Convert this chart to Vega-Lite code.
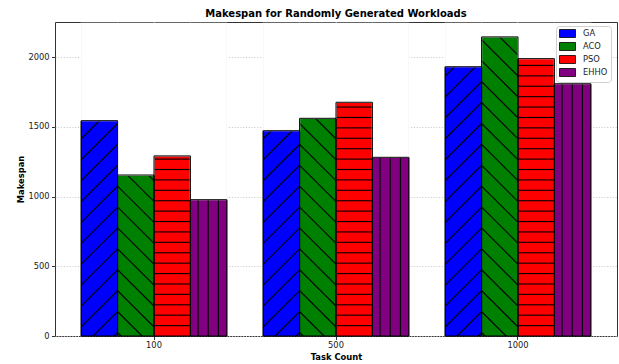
{
  "$schema": "https://vega.github.io/schema/vega-lite/v6.json",
  "width": 562,
  "height": 314,
  "autosize": {"type": "none"},
  "padding": {"left": 55, "top": 22, "right": 2, "bottom": 28},
  "background": "white",
  "title": {"text": "Makespan for Randomly Generated Workloads", "fontSize": 10, "fontWeight": "bold", "font": "DejaVu Sans", "anchor": "middle", "frame": "group", "offset": 3, "color": "#000000"},
  "config": {
    "font": "DejaVu Sans",
    "view": {"stroke": "#333333", "strokeWidth": 1},
    "axis": {"labelFont": "DejaVu Sans", "titleFont": "DejaVu Sans", "labelFontSize": 8.3, "titleFontSize": 8.4, "titleFontWeight": "bold", "labelColor": "#222222", "titleColor": "#000000", "tickColor": "#333333", "tickSize": 3.5, "domain": false, "grid": true, "gridColor": "#c8c8c8", "gridDash": [1.2, 1.6], "gridWidth": 0.9, "zindex": 1}
  },
  "data": {"values": [
    {"task": "100", "algo": "GA", "makespan": 1545},
    {"task": "100", "algo": "ACO", "makespan": 1155},
    {"task": "100", "algo": "PSO", "makespan": 1292},
    {"task": "100", "algo": "EHHO", "makespan": 978},
    {"task": "500", "algo": "GA", "makespan": 1473},
    {"task": "500", "algo": "ACO", "makespan": 1562},
    {"task": "500", "algo": "PSO", "makespan": 1677},
    {"task": "500", "algo": "EHHO", "makespan": 1282},
    {"task": "1000", "algo": "GA", "makespan": 1932},
    {"task": "1000", "algo": "ACO", "makespan": 2146},
    {"task": "1000", "algo": "PSO", "makespan": 1990},
    {"task": "1000", "algo": "EHHO", "makespan": 1810}
  ]},
  "encoding": {
    "x": {"field": "task", "type": "nominal", "title": "Task Count", "scale": {"domain": ["100", "500", "1000"], "paddingInner": 0.2, "paddingOuter": 0.144}, "axis": {"labelAngle": 0, "labelPadding": 0.5, "titlePadding": 4.5, "bandPosition": 0.5}},
    "xOffset": {"field": "algo", "type": "nominal", "scale": {"domain": ["GA", "ACO", "PSO", "EHHO"], "paddingInner": 0, "paddingOuter": 0}}
  },
  "layer": [
    {
      "mark": {"type": "bar", "stroke": "black", "strokeWidth": 1},
      "encoding": {
        "y": {"field": "makespan", "type": "quantitative", "title": "Makespan", "scale": {"domain": [0, 2253], "nice": false}, "axis": {"values": [0, 500, 1000, 1500, 2000], "format": "d", "labelPadding": 2.5, "titlePadding": 2}},
        "color": {"field": "algo", "type": "nominal", "scale": {"domain": ["GA", "ACO", "PSO", "EHHO"], "range": ["#0000ff", "#008000", "#ff0000", "#800080"]},
          "legend": {"title": null, "orient": "none", "legendX": 501, "legendY": 4, "direction": "vertical", "padding": 3, "strokeColor": "#d0d0d0", "cornerRadius": 3, "fillColor": "rgba(255,255,255,0.85)", "symbolType": "M-1,-1H3V1H-1Z", "symbolSize": 64, "symbolStrokeColor": "black", "symbolStrokeWidth": 0.8, "symbolOpacity": 1, "labelFontSize": 8.3, "labelFont": "DejaVu Sans", "labelColor": "#222222", "labelOffset": 15, "rowPadding": 0, "zindex": 2}}
      }
    },
    {
      "transform": [{"filter": "datum.algo === 'GA'"}],
      "mark": {"type": "bar", "stroke": null, "fill": {"gradient": "linear", "x1": 0, "y1": 0, "x2": 0.12787, "y2": 1.10127, "stops": [
        {"offset": 0.0255, "color": "#0000ff"}, {"offset": 0.03, "color": "#000000"}, {"offset": 0.0345, "color": "#0000ff"},
        {"offset": 0.0855, "color": "#0000ff"}, {"offset": 0.09, "color": "#000000"}, {"offset": 0.0945, "color": "#0000ff"},
        {"offset": 0.1455, "color": "#0000ff"}, {"offset": 0.15, "color": "#000000"}, {"offset": 0.1545, "color": "#0000ff"},
        {"offset": 0.2055, "color": "#0000ff"}, {"offset": 0.21, "color": "#000000"}, {"offset": 0.2145, "color": "#0000ff"},
        {"offset": 0.2655, "color": "#0000ff"}, {"offset": 0.27, "color": "#000000"}, {"offset": 0.2745, "color": "#0000ff"},
        {"offset": 0.3255, "color": "#0000ff"}, {"offset": 0.33, "color": "#000000"}, {"offset": 0.3345, "color": "#0000ff"},
        {"offset": 0.3855, "color": "#0000ff"}, {"offset": 0.39, "color": "#000000"}, {"offset": 0.3945, "color": "#0000ff"},
        {"offset": 0.4455, "color": "#0000ff"}, {"offset": 0.45, "color": "#000000"}, {"offset": 0.4545, "color": "#0000ff"},
        {"offset": 0.5055, "color": "#0000ff"}, {"offset": 0.51, "color": "#000000"}, {"offset": 0.5145, "color": "#0000ff"},
        {"offset": 0.5655, "color": "#0000ff"}, {"offset": 0.57, "color": "#000000"}, {"offset": 0.5745, "color": "#0000ff"},
        {"offset": 0.6255, "color": "#0000ff"}, {"offset": 0.63, "color": "#000000"}, {"offset": 0.6345, "color": "#0000ff"},
        {"offset": 0.6855, "color": "#0000ff"}, {"offset": 0.69, "color": "#000000"}, {"offset": 0.6945, "color": "#0000ff"},
        {"offset": 0.7455, "color": "#0000ff"}, {"offset": 0.75, "color": "#000000"}, {"offset": 0.7545, "color": "#0000ff"},
        {"offset": 0.8055, "color": "#0000ff"}, {"offset": 0.81, "color": "#000000"}, {"offset": 0.8145, "color": "#0000ff"},
        {"offset": 0.8655, "color": "#0000ff"}, {"offset": 0.87, "color": "#000000"}, {"offset": 0.8745, "color": "#0000ff"},
        {"offset": 0.9255, "color": "#0000ff"}, {"offset": 0.93, "color": "#000000"}, {"offset": 0.9345, "color": "#0000ff"},
        {"offset": 0.9855, "color": "#0000ff"}, {"offset": 0.99, "color": "#000000"}, {"offset": 0.9945, "color": "#0000ff"}
      ]}},
      "encoding": {
        "y": {"datum": 2240, "type": "quantitative", "title": "Makespan", "scale": {"domain": [0, 2253], "nice": false}},
        "y2": {"datum": 0}
      }
    },
    {
      "transform": [{"filter": "datum.algo === 'ACO'"}],
      "mark": {"type": "bar", "stroke": null, "fill": {"gradient": "linear", "x1": 1, "y1": 0, "x2": 0.87213, "y2": 1.10127, "stops": [
        {"offset": 0.0255, "color": "#008000"}, {"offset": 0.03, "color": "#000000"}, {"offset": 0.0345, "color": "#008000"},
        {"offset": 0.0855, "color": "#008000"}, {"offset": 0.09, "color": "#000000"}, {"offset": 0.0945, "color": "#008000"},
        {"offset": 0.1455, "color": "#008000"}, {"offset": 0.15, "color": "#000000"}, {"offset": 0.1545, "color": "#008000"},
        {"offset": 0.2055, "color": "#008000"}, {"offset": 0.21, "color": "#000000"}, {"offset": 0.2145, "color": "#008000"},
        {"offset": 0.2655, "color": "#008000"}, {"offset": 0.27, "color": "#000000"}, {"offset": 0.2745, "color": "#008000"},
        {"offset": 0.3255, "color": "#008000"}, {"offset": 0.33, "color": "#000000"}, {"offset": 0.3345, "color": "#008000"},
        {"offset": 0.3855, "color": "#008000"}, {"offset": 0.39, "color": "#000000"}, {"offset": 0.3945, "color": "#008000"},
        {"offset": 0.4455, "color": "#008000"}, {"offset": 0.45, "color": "#000000"}, {"offset": 0.4545, "color": "#008000"},
        {"offset": 0.5055, "color": "#008000"}, {"offset": 0.51, "color": "#000000"}, {"offset": 0.5145, "color": "#008000"},
        {"offset": 0.5655, "color": "#008000"}, {"offset": 0.57, "color": "#000000"}, {"offset": 0.5745, "color": "#008000"},
        {"offset": 0.6255, "color": "#008000"}, {"offset": 0.63, "color": "#000000"}, {"offset": 0.6345, "color": "#008000"},
        {"offset": 0.6855, "color": "#008000"}, {"offset": 0.69, "color": "#000000"}, {"offset": 0.6945, "color": "#008000"},
        {"offset": 0.7455, "color": "#008000"}, {"offset": 0.75, "color": "#000000"}, {"offset": 0.7545, "color": "#008000"},
        {"offset": 0.8055, "color": "#008000"}, {"offset": 0.81, "color": "#000000"}, {"offset": 0.8145, "color": "#008000"},
        {"offset": 0.8655, "color": "#008000"}, {"offset": 0.87, "color": "#000000"}, {"offset": 0.8745, "color": "#008000"},
        {"offset": 0.9255, "color": "#008000"}, {"offset": 0.93, "color": "#000000"}, {"offset": 0.9345, "color": "#008000"},
        {"offset": 0.9855, "color": "#008000"}, {"offset": 0.99, "color": "#000000"}, {"offset": 0.9945, "color": "#008000"}
      ]}},
      "encoding": {
        "y": {"datum": 2240, "type": "quantitative", "title": "Makespan", "scale": {"domain": [0, 2253], "nice": false}},
        "y2": {"datum": 0}
      }
    },
    {
      "transform": [{"filter": "datum.algo === 'PSO'"}],
      "mark": {"type": "bar", "stroke": null, "fill": {"gradient": "linear", "x1": 0, "y1": 0, "x2": 0, "y2": 1, "stops": [
        {"offset": 0.02983, "color": "#ff0000"}, {"offset": 0.03333, "color": "#000000"}, {"offset": 0.03683, "color": "#ff0000"},
        {"offset": 0.06317, "color": "#ff0000"}, {"offset": 0.06667, "color": "#000000"}, {"offset": 0.07017, "color": "#ff0000"},
        {"offset": 0.0965, "color": "#ff0000"}, {"offset": 0.1, "color": "#000000"}, {"offset": 0.1035, "color": "#ff0000"},
        {"offset": 0.12983, "color": "#ff0000"}, {"offset": 0.13333, "color": "#000000"}, {"offset": 0.13683, "color": "#ff0000"},
        {"offset": 0.16317, "color": "#ff0000"}, {"offset": 0.16667, "color": "#000000"}, {"offset": 0.17017, "color": "#ff0000"},
        {"offset": 0.1965, "color": "#ff0000"}, {"offset": 0.2, "color": "#000000"}, {"offset": 0.2035, "color": "#ff0000"},
        {"offset": 0.22983, "color": "#ff0000"}, {"offset": 0.23333, "color": "#000000"}, {"offset": 0.23683, "color": "#ff0000"},
        {"offset": 0.26317, "color": "#ff0000"}, {"offset": 0.26667, "color": "#000000"}, {"offset": 0.27017, "color": "#ff0000"},
        {"offset": 0.2965, "color": "#ff0000"}, {"offset": 0.3, "color": "#000000"}, {"offset": 0.3035, "color": "#ff0000"},
        {"offset": 0.32983, "color": "#ff0000"}, {"offset": 0.33333, "color": "#000000"}, {"offset": 0.33683, "color": "#ff0000"},
        {"offset": 0.36317, "color": "#ff0000"}, {"offset": 0.36667, "color": "#000000"}, {"offset": 0.37017, "color": "#ff0000"},
        {"offset": 0.3965, "color": "#ff0000"}, {"offset": 0.4, "color": "#000000"}, {"offset": 0.4035, "color": "#ff0000"},
        {"offset": 0.42983, "color": "#ff0000"}, {"offset": 0.43333, "color": "#000000"}, {"offset": 0.43683, "color": "#ff0000"},
        {"offset": 0.46317, "color": "#ff0000"}, {"offset": 0.46667, "color": "#000000"}, {"offset": 0.47017, "color": "#ff0000"},
        {"offset": 0.4965, "color": "#ff0000"}, {"offset": 0.5, "color": "#000000"}, {"offset": 0.5035, "color": "#ff0000"},
        {"offset": 0.52983, "color": "#ff0000"}, {"offset": 0.53333, "color": "#000000"}, {"offset": 0.53683, "color": "#ff0000"},
        {"offset": 0.56317, "color": "#ff0000"}, {"offset": 0.56667, "color": "#000000"}, {"offset": 0.57017, "color": "#ff0000"},
        {"offset": 0.5965, "color": "#ff0000"}, {"offset": 0.6, "color": "#000000"}, {"offset": 0.6035, "color": "#ff0000"},
        {"offset": 0.62983, "color": "#ff0000"}, {"offset": 0.63333, "color": "#000000"}, {"offset": 0.63683, "color": "#ff0000"},
        {"offset": 0.66317, "color": "#ff0000"}, {"offset": 0.66667, "color": "#000000"}, {"offset": 0.67017, "color": "#ff0000"},
        {"offset": 0.6965, "color": "#ff0000"}, {"offset": 0.7, "color": "#000000"}, {"offset": 0.7035, "color": "#ff0000"},
        {"offset": 0.72983, "color": "#ff0000"}, {"offset": 0.73333, "color": "#000000"}, {"offset": 0.73683, "color": "#ff0000"},
        {"offset": 0.76317, "color": "#ff0000"}, {"offset": 0.76667, "color": "#000000"}, {"offset": 0.77017, "color": "#ff0000"},
        {"offset": 0.7965, "color": "#ff0000"}, {"offset": 0.8, "color": "#000000"}, {"offset": 0.8035, "color": "#ff0000"},
        {"offset": 0.82983, "color": "#ff0000"}, {"offset": 0.83333, "color": "#000000"}, {"offset": 0.83683, "color": "#ff0000"},
        {"offset": 0.86317, "color": "#ff0000"}, {"offset": 0.86667, "color": "#000000"}, {"offset": 0.87017, "color": "#ff0000"},
        {"offset": 0.8965, "color": "#ff0000"}, {"offset": 0.9, "color": "#000000"}, {"offset": 0.9035, "color": "#ff0000"},
        {"offset": 0.92983, "color": "#ff0000"}, {"offset": 0.93333, "color": "#000000"}, {"offset": 0.93683, "color": "#ff0000"},
        {"offset": 0.96317, "color": "#ff0000"}, {"offset": 0.96667, "color": "#000000"}, {"offset": 0.97017, "color": "#ff0000"}
      ]}},
      "encoding": {
        "y": {"datum": 2240, "type": "quantitative", "title": "Makespan", "scale": {"domain": [0, 2253], "nice": false}},
        "y2": {"datum": 0}
      }
    },
    {
      "transform": [{"filter": "datum.algo === 'EHHO'"}],
      "mark": {"type": "bar", "stroke": null, "fill": {"gradient": "linear", "x1": 0, "y1": 0, "x2": 1, "y2": 0, "stops": [
        {"offset": 0.18, "color": "#800080"}, {"offset": 0.21, "color": "#000000"}, {"offset": 0.24, "color": "#800080"},
        {"offset": 0.46, "color": "#800080"}, {"offset": 0.49, "color": "#000000"}, {"offset": 0.52, "color": "#800080"},
        {"offset": 0.74, "color": "#800080"}, {"offset": 0.77, "color": "#000000"}, {"offset": 0.80, "color": "#800080"}
      ]}},
      "encoding": {
        "y": {"datum": 2240, "type": "quantitative", "title": "Makespan", "scale": {"domain": [0, 2253], "nice": false}},
        "y2": {"datum": 0}
      }
    },
    {
      "mark": {"type": "bar", "fill": "white", "stroke": "white", "strokeWidth": 1.2},
      "encoding": {
        "y": {"field": "makespan", "type": "quantitative", "title": "Makespan", "scale": {"domain": [0, 2253], "nice": false}},
        "y2": {"datum": 2243}
      }
    },
    {
      "mark": {"type": "bar", "fill": "transparent", "fillOpacity": 0, "stroke": "black", "strokeWidth": 1},
      "encoding": {
        "y": {"field": "makespan", "type": "quantitative", "title": "Makespan", "scale": {"domain": [0, 2253], "nice": false}}
      }
    }
  ]
}
